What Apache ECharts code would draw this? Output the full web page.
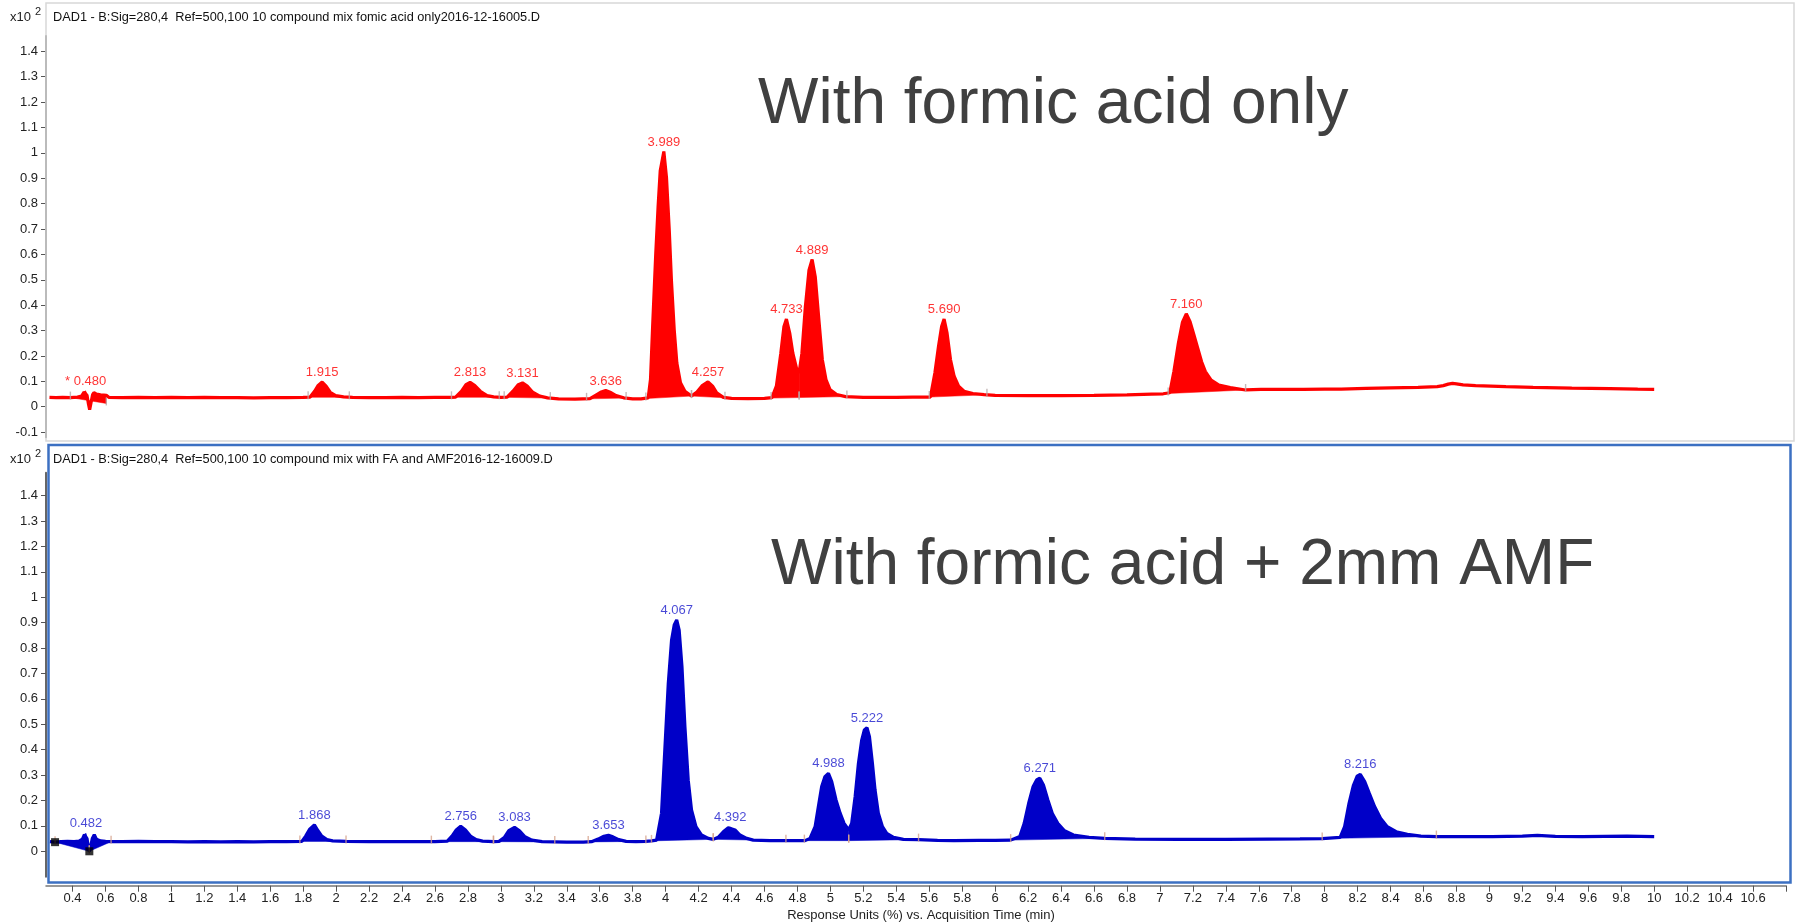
<!DOCTYPE html>
<html>
<head>
<meta charset="utf-8">
<script src="https://cdn.jsdelivr.net/npm/echarts@6/dist/echarts.min.js"></script>
<style>
  html, body { margin: 0; padding: 0; background: #fff; }
  #chart { width: 1800px; height: 922px; }
</style>
</head>
<body>
<div id="chart"></div>
<script>
// DAD1 280 nm chromatograms: [time (min), response (x10^2 %)]
const topTrace = [
  [0.26,0.037],[0.30,0.036],[0.34,0.037],[0.387,0.036],[0.43,0.038],[0.455,0.042],[0.47,0.058],[0.480,0.063],
  [0.488,0.045],[0.497,0.010],[0.504,-0.012],[0.512,0.015],[0.522,0.048],[0.53,0.056],[0.545,0.050],[0.57,0.047],
  [0.59,0.046],[0.605,0.045],[0.62,0.037],[0.7,0.036],[0.8,0.037],[0.9,0.036],[1.0,0.037],[1.1,0.036],[1.2,0.037],
  [1.3,0.036],[1.4,0.036],[1.5,0.035],[1.6,0.036],[1.7,0.036],[1.8,0.037],[1.842,0.038],[1.869,0.061],[1.891,0.084],
  [1.915,0.097],[1.939,0.081],[1.964,0.057],[1.997,0.044],[2.045,0.039],[2.1,0.037],[2.2,0.036],[2.3,0.036],
  [2.4,0.037],[2.5,0.036],[2.6,0.037],[2.7,0.037],[2.725,0.038],[2.761,0.061],[2.788,0.087],[2.813,0.096],
  [2.842,0.083],[2.875,0.061],[2.916,0.044],[2.956,0.039],[3.0,0.037],[3.038,0.038],[3.073,0.061],[3.106,0.087],
  [3.131,0.094],[3.160,0.081],[3.193,0.057],[3.236,0.042],[3.283,0.035],[3.35,0.031],[3.45,0.030],[3.541,0.032],
  [3.582,0.048],[3.609,0.058],[3.636,0.064],[3.663,0.057],[3.699,0.044],[3.745,0.035],[3.8,0.031],[3.85,0.031],
  [3.894,0.035],[3.908,0.107],[3.921,0.316],[3.940,0.603],[3.954,0.786],[3.967,0.929],[3.989,1.005],[4.005,0.903],
  [4.022,0.694],[4.035,0.498],[4.052,0.303],[4.068,0.172],[4.090,0.094],[4.117,0.061],[4.157,0.042],[4.19,0.058],
  [4.22,0.082],[4.257,0.098],[4.285,0.081],[4.31,0.055],[4.35,0.037],[4.4,0.033],[4.5,0.032],[4.6,0.033],
  [4.645,0.036],[4.672,0.081],[4.699,0.211],[4.718,0.316],[4.733,0.345],[4.753,0.290],[4.772,0.211],[4.794,0.152],
  [4.810,0.133],[4.827,0.211],[4.848,0.394],[4.870,0.538],[4.889,0.580],[4.908,0.512],[4.930,0.342],[4.951,0.185],
  [4.973,0.107],[4.997,0.068],[5.038,0.048],[5.092,0.040],[5.2,0.037],[5.3,0.037],[5.4,0.037],[5.5,0.038],
  [5.607,0.038],[5.634,0.133],[5.656,0.237],[5.675,0.316],[5.690,0.345],[5.708,0.290],[5.729,0.185],[5.751,0.120],
  [5.778,0.081],[5.811,0.061],[5.865,0.052],[5.933,0.048],[6.0,0.045],[6.2,0.044],[6.4,0.044],[6.6,0.045],
  [6.8,0.047],[6.95,0.050],[7.02,0.051],[7.06,0.055],[7.085,0.140],[7.112,0.250],[7.137,0.333],[7.160,0.366],
  [7.183,0.335],[7.207,0.282],[7.230,0.230],[7.253,0.177],[7.276,0.138],[7.311,0.105],[7.358,0.085],[7.427,0.075],
  [7.52,0.066],[7.613,0.068],[7.75,0.068],[7.87,0.068],[8.0,0.069],[8.1,0.069],[8.25,0.072],[8.4,0.074],
  [8.567,0.076],[8.683,0.079],[8.72,0.083],[8.75,0.089],[8.776,0.092],[8.80,0.090],[8.84,0.086],[8.916,0.083],
  [9.1,0.079],[9.265,0.076],[9.5,0.073],[9.73,0.071],[9.9,0.069],[10.0,0.068]
];

const bottomTrace = [
  [0.263,0.038],[0.294,0.036],[0.33,0.038],[0.37,0.039],[0.41,0.038],[0.44,0.040],[0.46,0.048],[0.472,0.066],
  [0.482,0.071],[0.488,0.050],[0.495,0.020],[0.502,0.000],[0.51,0.020],[0.52,0.050],[0.532,0.065],[0.545,0.048],
  [0.57,0.041],[0.6,0.039],[0.634,0.038],[0.7,0.038],[0.8,0.039],[0.9,0.038],[1.0,0.038],[1.1,0.037],[1.2,0.038],
  [1.3,0.037],[1.4,0.038],[1.5,0.037],[1.6,0.038],[1.7,0.038],[1.792,0.039],[1.815,0.060],[1.838,0.086],
  [1.868,0.104],[1.890,0.081],[1.913,0.060],[1.944,0.046],[1.979,0.041],[2.06,0.039],[2.2,0.038],[2.35,0.038],
  [2.5,0.038],[2.6,0.038],[2.675,0.040],[2.703,0.060],[2.729,0.084],[2.756,0.099],[2.785,0.084],[2.815,0.060],
  [2.850,0.046],[2.889,0.040],[2.955,0.038],[2.989,0.039],[3.020,0.054],[3.048,0.081],[3.083,0.094],[3.113,0.081],
  [3.146,0.057],[3.188,0.044],[3.25,0.038],[3.327,0.037],[3.4,0.036],[3.5,0.036],[3.55,0.038],[3.59,0.048],
  [3.625,0.059],[3.653,0.063],[3.68,0.057],[3.715,0.046],[3.76,0.039],[3.82,0.038],[3.88,0.039],[3.914,0.041],
  [3.945,0.044],[3.975,0.150],[3.995,0.399],[4.016,0.661],[4.036,0.832],[4.052,0.891],[4.067,0.911],[4.082,0.871],
  [4.099,0.727],[4.117,0.490],[4.137,0.280],[4.157,0.163],[4.184,0.097],[4.218,0.064],[4.259,0.051],[4.289,0.047],
  [4.319,0.055],[4.350,0.077],[4.380,0.093],[4.392,0.095],[4.421,0.084],[4.451,0.064],[4.492,0.051],[4.532,0.044],
  [4.633,0.042],[4.735,0.042],[4.846,0.042],[4.876,0.051],[4.907,0.097],[4.927,0.176],[4.947,0.255],[4.967,0.294],
  [4.988,0.307],[5.008,0.274],[5.034,0.202],[5.059,0.150],[5.083,0.110],[5.111,0.084],[5.129,0.110],[5.150,0.215],
  [5.170,0.346],[5.190,0.438],[5.206,0.478],[5.222,0.487],[5.237,0.451],[5.255,0.346],[5.271,0.241],[5.291,0.150],
  [5.316,0.097],[5.342,0.071],[5.383,0.055],[5.443,0.047],[5.535,0.046],[5.65,0.043],[5.75,0.042],[5.9,0.043],
  [6.0,0.043],[6.094,0.044],[6.149,0.058],[6.176,0.110],[6.203,0.189],[6.230,0.254],[6.252,0.281],[6.271,0.288],
  [6.293,0.261],[6.320,0.202],[6.347,0.149],[6.380,0.110],[6.421,0.081],[6.475,0.064],[6.570,0.055],[6.665,0.051],
  [6.85,0.048],[7.114,0.047],[7.4,0.047],[7.658,0.048],[7.85,0.049],[7.985,0.050],[8.094,0.055],[8.121,0.097],
  [8.148,0.189],[8.175,0.261],[8.197,0.296],[8.216,0.303],[8.243,0.274],[8.271,0.228],[8.303,0.176],[8.339,0.130],
  [8.380,0.097],[8.434,0.077],[8.502,0.067],[8.584,0.060],[8.678,0.058],[8.85,0.058],[9.018,0.058],[9.2,0.060],
  [9.291,0.063],[9.4,0.059],[9.563,0.058],[9.7,0.059],[9.835,0.060],[10.0,0.058]
];

// Integration windows: [start time, baseline at start, end time, baseline at end]
const topWindows = [
  [0.387,0.036,0.605,0.013],[1.83,0.037,2.08,0.037],[2.70,0.037,2.99,0.037],[3.02,0.037,3.30,0.034],
  [3.52,0.031,3.76,0.034],[3.88,0.032,4.157,0.042],[4.157,0.042,4.36,0.035],[4.64,0.034,4.81,0.036],
  [4.81,0.036,5.10,0.040],[5.60,0.038,5.95,0.047],[7.05,0.052,7.52,0.066]
];
const bottomWindows = [
  [0.294,0.036,0.502,0.000],[0.502,0.000,0.634,0.038],[1.78,0.039,2.06,0.039],[2.578,0.038,2.955,0.038],
  [2.955,0.038,3.327,0.037],[3.53,0.037,3.88,0.039],[3.914,0.041,4.289,0.047],[4.289,0.047,4.73,0.042],
  [4.842,0.042,5.111,0.042],[5.111,0.042,5.535,0.046],[6.094,0.044,6.665,0.051],[7.985,0.050,8.678,0.058]
];

// Labelled retention times (min)
const topPeakTimes = [0.480,1.915,2.813,3.131,3.636,3.989,4.257,4.733,4.889,5.690,7.160];
const bottomPeakTimes = [0.482,1.868,2.756,3.083,3.653,4.067,4.392,4.988,5.222,6.271,8.216];

// Baseline anchor squares on the lower trace
const bottomAnchors = [[0.294,0.036],[0.502,0.000]];

// Axis ticks
const xTickLabels = [0.4,0.6,0.8,1,1.2,1.4,1.6,1.8,2,2.2,2.4,2.6,2.8,3,3.2,3.4,3.6,3.8,4,4.2,4.4,4.6,4.8,5,
  5.2,5.4,5.6,5.8,6,6.2,6.4,6.6,6.8,7,7.2,7.4,7.6,7.8,8,8.2,8.4,8.6,8.8,9,9.2,9.4,9.6,9.8,10,10.2,10.4,10.6];
const xTickMarks = xTickLabels.concat([10.8]);
const topYTicks = [-0.1,0,0.1,0.2,0.3,0.4,0.5,0.6,0.7,0.8,0.9,1,1.1,1.2,1.3,1.4];
const bottomYTicks = [0,0.1,0.2,0.3,0.4,0.5,0.6,0.7,0.8,0.9,1,1.1,1.2,1.3,1.4];

const FONT = '"Liberation Sans", Arial, Helvetica, sans-serif';
const RED = '#ff0000';
const BLUE = '#0000c8';

const chart = echarts.init(document.getElementById('chart'), null, { renderer: 'canvas' });

function peakLabels(trace, times) {
  return times.map(t => {
    const p = trace.find(d => d[0] === t);
    return [t, p[1]];
  });
}

function fillSeries(trace, windows, color, xi, yi) {
  return {
    type: 'custom',
    xAxisIndex: xi, yAxisIndex: yi,
    data: windows,
    encode: { x: [0, 2], y: [1, 3] },
    silent: true,
    z: 2,
    renderItem: function (params, api) {
      const w = windows[params.dataIndex];
      const pts = [api.coord([w[0], w[1]])];
      trace.forEach(p => {
        if (p[0] >= w[0] && p[0] <= w[2]) pts.push(api.coord(p));
      });
      pts.push(api.coord([w[2], w[3]]));
      return { type: 'polygon', shape: { points: pts }, style: { fill: color, stroke: color, lineWidth: 0.5 } };
    }
  };
}

function integrationTicks(windows) {
  const pts = [];
  windows.forEach(w => { pts.push([w[0], w[1]]); pts.push([w[2], w[3]]); });
  return pts;
}

const fmt1 = v => String(Math.round(v * 10) / 10);

const yAxisCommon = {
  type: 'value',
  axisLine: { show: true, lineStyle: { color: '#666', width: 2 } },
  axisTick: { show: true, length: 5, lineStyle: { color: '#555', width: 1 } },
  axisLabel: { color: '#222', fontSize: 13, fontFamily: FONT, margin: 8, formatter: fmt1 },
  splitLine: { show: false }
};

const option = {
  animation: false,
  backgroundColor: '#ffffff',
  grid: [
    { left: 46, width: 1740, top: 36, height: 401.2 },
    { left: 46, width: 1740, top: 472.8, height: 403.9 }
  ],
  xAxis: [
    { gridIndex: 0, type: 'value', min: 0.239, max: 10.8, show: false },
    {
      gridIndex: 1, type: 'value', min: 0.239, max: 10.8, offset: 9,
      axisLine: { show: true, onZero: false, lineStyle: { color: '#777', width: 1.5 } },
      axisTick: { show: true, length: 6, customValues: xTickMarks, lineStyle: { color: '#555' } },
      axisLabel: { customValues: xTickLabels, color: '#222', fontSize: 13, fontFamily: FONT, margin: 6, formatter: fmt1 },
      splitLine: { show: false }
    }
  ],
  yAxis: [
    Object.assign({}, yAxisCommon, {
      gridIndex: 0, min: -0.12, max: 1.46,
      axisTick: Object.assign({}, yAxisCommon.axisTick, { customValues: topYTicks }),
      axisLabel: Object.assign({}, yAxisCommon.axisLabel, { customValues: topYTicks })
    }),
    Object.assign({}, yAxisCommon, {
      gridIndex: 1, min: -0.1, max: 1.49,
      axisTick: Object.assign({}, yAxisCommon.axisTick, { customValues: bottomYTicks }),
      axisLabel: Object.assign({}, yAxisCommon.axisLabel, { customValues: bottomYTicks })
    })
  ],
  series: [
    fillSeries(topTrace, topWindows, RED, 0, 0),
    {
      type: 'line', xAxisIndex: 0, yAxisIndex: 0, data: topTrace,
      showSymbol: false, silent: true, z: 3,
      lineStyle: { color: RED, width: 3.2 }
    },
    {
      type: 'scatter', xAxisIndex: 0, yAxisIndex: 0, data: integrationTicks(topWindows),
      symbol: 'rect', symbolSize: [1.4, 8], symbolOffset: [0, -2], silent: true, z: 4,
      itemStyle: { color: '#b8a8a8' }
    },
    {
      type: 'scatter', xAxisIndex: 0, yAxisIndex: 0, data: peakLabels(topTrace, topPeakTimes),
      symbolSize: 0, silent: true, z: 5,
      itemStyle: { color: 'rgba(0,0,0,0)' },
      label: {
        show: true, position: 'top', distance: 3, color: RED, fontSize: 13, fontFamily: FONT,
        formatter: p => (p.dataIndex === 0 ? '* ' : '') + p.value[0].toFixed(3)
      }
    },
    fillSeries(bottomTrace, bottomWindows, BLUE, 1, 1),
    {
      type: 'line', xAxisIndex: 1, yAxisIndex: 1, data: bottomTrace,
      showSymbol: false, silent: true, z: 3,
      lineStyle: { color: BLUE, width: 3.2 }
    },
    {
      type: 'scatter', xAxisIndex: 1, yAxisIndex: 1, data: integrationTicks(bottomWindows),
      symbol: 'rect', symbolSize: [1.4, 8], symbolOffset: [0, -2], silent: true, z: 4,
      itemStyle: { color: '#d6a28c' }
    },
    {
      type: 'scatter', xAxisIndex: 1, yAxisIndex: 1, data: bottomAnchors,
      symbol: 'rect', symbolSize: 8, silent: true, z: 6,
      itemStyle: { color: '#000' }
    },
    {
      type: 'scatter', xAxisIndex: 1, yAxisIndex: 1, data: peakLabels(bottomTrace, bottomPeakTimes),
      symbolSize: 0, silent: true, z: 5,
      itemStyle: { color: 'rgba(0,0,0,0)' },
      label: {
        show: true, position: 'top', distance: 3, color: '#1a1acc', fontSize: 13, fontFamily: FONT,
        formatter: p => p.value[0].toFixed(3)
      }
    }
  ],
  graphic: [
    // panel frames
    { type: 'rect', z: 1, shape: { x: 46, y: 3, width: 1748, height: 438 },
      style: { fill: null, stroke: '#d8d8d8', lineWidth: 1.5 } },
    { type: 'rect', z: 1, shape: { x: 48.5, y: 445, width: 1742, height: 437.5 },
      style: { fill: null, stroke: '#3c70c2', lineWidth: 2.5 } },
    // scale factor markers
    { type: 'text', x: 10, y: 17, style: { text: 'x10', font: '13px ' + FONT, fill: '#222', verticalAlign: 'middle' } },
    { type: 'text', x: 35, y: 12, style: { text: '2', font: '11px ' + FONT, fill: '#222', verticalAlign: 'middle' } },
    { type: 'text', x: 10, y: 459, style: { text: 'x10', font: '13px ' + FONT, fill: '#222', verticalAlign: 'middle' } },
    { type: 'text', x: 35, y: 454, style: { text: '2', font: '11px ' + FONT, fill: '#222', verticalAlign: 'middle' } },
    // trace headers
    { type: 'text', x: 53, y: 17, style: {
      text: 'DAD1 - B:Sig=280,4  Ref=500,100 10 compound mix fomic acid only2016-12-16005.D',
      font: '12.75px ' + FONT, fill: '#111', verticalAlign: 'middle' } },
    { type: 'text', x: 53, y: 459, style: {
      text: 'DAD1 - B:Sig=280,4  Ref=500,100 10 compound mix with FA and AMF2016-12-16009.D',
      font: '12.75px ' + FONT, fill: '#111', verticalAlign: 'middle' } },
    // condition captions
    { type: 'text', x: 758, y: 105, style: {
      text: 'With formic acid only', font: '64px ' + FONT, fill: '#404040', verticalAlign: 'middle' } },
    { type: 'text', x: 771, y: 566, style: {
      text: 'With formic acid + 2mm AMF', font: '64px ' + FONT, fill: '#404040', verticalAlign: 'middle' } },
    // x axis title
    { type: 'text', x: 921, y: 915, style: {
      text: 'Response Units (%) vs. Acquisition Time (min)', font: '13px ' + FONT, fill: '#222',
      align: 'center', verticalAlign: 'middle' } }
  ]
};

chart.setOption(option);
</script>
</body>
</html>
